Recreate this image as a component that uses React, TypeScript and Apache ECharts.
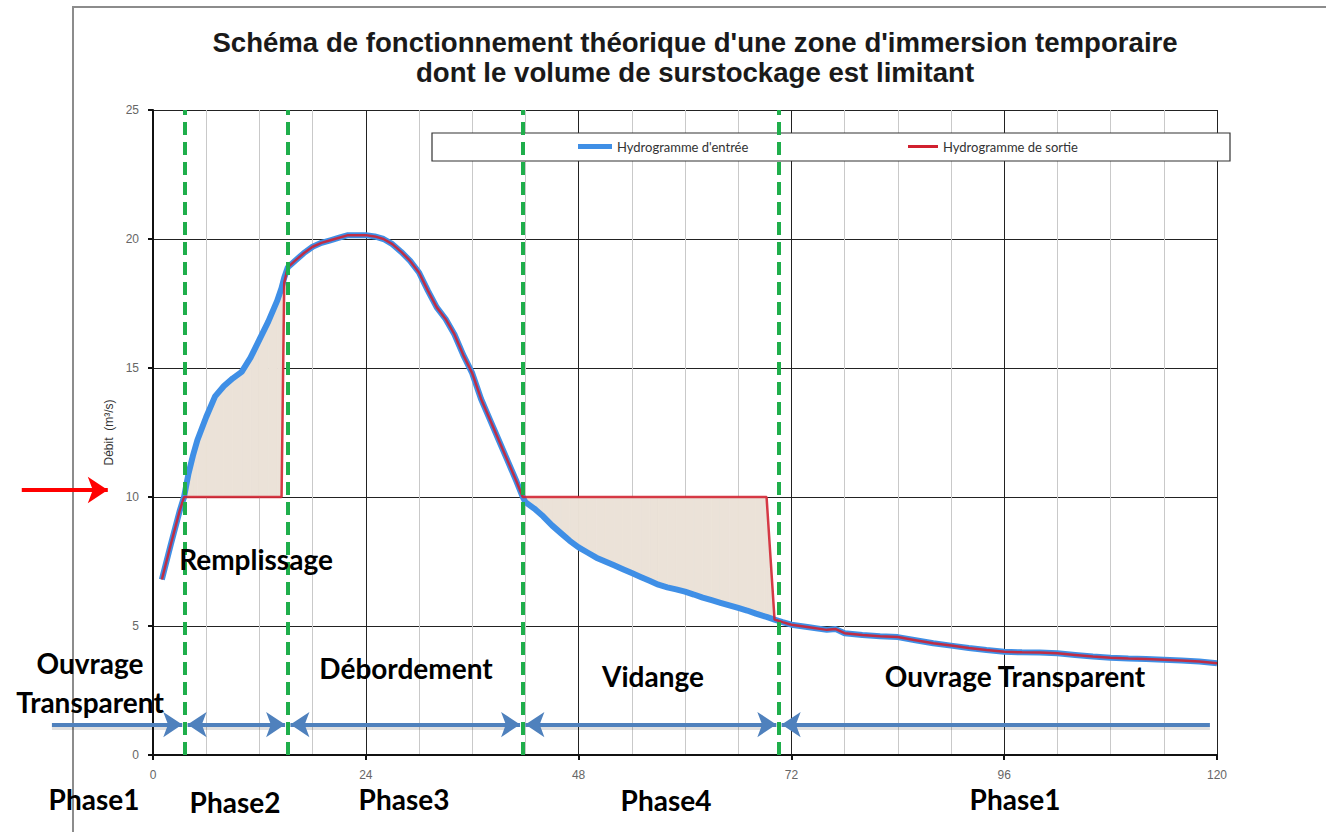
import React, { useEffect, useRef } from "react";
import * as echarts from "echarts";

// ---------- data ----------
const hours = [
  1, 2, 3, 3.5, 4, 4.5, 5, 6, 7, 8, 9, 10, 11, 12, 13, 14, 14.5, 14.8, 15.2, 16, 17, 18, 19, 20,
  21, 22, 23, 24, 25, 26, 27, 28, 29, 30, 31, 32, 33, 34, 35, 36, 37, 38, 39, 40, 41, 41.7,
  42, 43, 44, 45, 46, 47, 48, 49, 50, 51, 52, 53, 54, 55, 56, 57, 58, 59, 60, 61, 62, 63, 64,
  65, 66, 67, 68, 69, 69.2, 70.1, 71, 72, 74, 76, 77, 78, 80, 82, 84, 86, 88, 90, 92, 94, 96,
  98, 100, 102, 104, 106, 108, 110, 112, 114, 116, 118, 120,
];
const inflow = [
  6.8, 8.15, 9.45, 10.0, 10.9, 11.6, 12.2, 13.1, 13.9, 14.3, 14.6, 14.85, 15.4, 16.1, 16.8, 17.6,
  18.1, 18.5, 18.9, 19.15, 19.45, 19.7, 19.85, 19.95, 20.05, 20.15, 20.15, 20.15, 20.1, 20.0,
  19.8, 19.5, 19.15, 18.7, 18.0, 17.35, 16.9, 16.3, 15.5, 14.8, 13.8, 13.0, 12.2, 11.4, 10.6,
  10.0, 9.8, 9.55, 9.25, 8.9, 8.6, 8.3, 8.05, 7.85, 7.65, 7.5, 7.35, 7.2, 7.05, 6.9, 6.75, 6.6,
  6.5, 6.42, 6.33, 6.22, 6.1, 6.0, 5.9, 5.8, 5.7, 5.6, 5.48, 5.37, 5.35, 5.25, 5.15, 5.05, 4.95,
  4.85, 4.88, 4.72, 4.65, 4.6, 4.57, 4.45, 4.33, 4.24, 4.15, 4.07, 4.0, 3.98, 3.97, 3.94, 3.88,
  3.82, 3.77, 3.74, 3.72, 3.69, 3.66, 3.62, 3.56,
];
const outflow = [
  6.8, 8.15, 9.45, 10.0, 10, 10, 10, 10, 10, 10, 10, 10, 10, 10, 10, 10,
  10, 18.3, 18.9, 19.15, 19.45, 19.7, 19.85, 19.95, 20.05, 20.15, 20.15, 20.15, 20.1, 20.0,
  19.8, 19.5, 19.15, 18.7, 18.0, 17.35, 16.9, 16.3, 15.5, 14.8, 13.8, 13.0, 12.2, 11.4, 10.6,
  10.0, 10, 10, 10, 10, 10, 10, 10, 10, 10, 10, 10, 10, 10, 10, 10, 10,
  10, 10, 10, 10, 10, 10, 10, 10, 10, 10, 10, 10, 10, 5.25, 5.15, 5.05, 4.95,
  4.85, 4.88, 4.72, 4.65, 4.6, 4.57, 4.45, 4.33, 4.24, 4.15, 4.07, 4.0, 3.98, 3.97, 3.94, 3.88,
  3.82, 3.77, 3.74, 3.72, 3.69, 3.66, 3.62, 3.56,
];
const phaseBounds = [3.6, 15.2, 41.7, 70.6];
const arrowSpan = [-11.4, 119.2];
const arrowLevel = 1.18;
const thresholdArrowX = [-14.8, -5.1];
const thresholdArrowY = 10.27;
const xMin = 0, xMax = 120, xInterval = 24;
const yMin = 0, yMax = 25, yInterval = 5;

const titleText =
  "Schéma de fonctionnement théorique d'une zone d'immersion temporaire\ndont le volume de surstockage est limitant";
const nameIn = "Hydrogramme d'entrée";
const nameOut = "Hydrogramme de sortie";
const yName = "Débit  (m³/s)";

const annotations = [
  { text: "Remplissage", x: 256, y: 559 },
  { text: "Ouvrage\nTransparent", x: 90, y: 682 },
  { text: "Débordement", x: 406, y: 668 },
  { text: "Vidange", x: 653, y: 676 },
  { text: "Ouvrage Transparent", x: 1015, y: 676 },
  { text: "Phase1", x: 94, y: 799 },
  { text: "Phase2", x: 235, y: 802 },
  { text: "Phase3", x: 404, y: 799 },
  { text: "Phase4", x: 666, y: 800 },
  { text: "Phase1", x: 1015, y: 799 },
];

export default function App() {
  const ref = useRef<HTMLDivElement>(null);
  useEffect(() => {
    document.body.style.margin = "0";
    const chart = echarts.init(ref.current!, null, { renderer: "svg" });

    const inData = hours.map((h, i) => [h, inflow[i]]);
    const outData = hours.map((h, i) => [h, outflow[i]]);
    const bandData = hours.map((h, i) => [h, inflow[i], outflow[i]]);

    const bounds = [arrowSpan[0], ...phaseBounds, arrowSpan[1]];
    const gap = 0.3;
    const arrowSegs: any[] = [];
    const shadowSegs: any[] = [];
    for (let i = 0; i < bounds.length - 1; i++) {
      const from = bounds[i] + (i > 0 ? gap : 0);
      const to = bounds[i + 1] - (i < bounds.length - 2 ? gap : 0);
      arrowSegs.push({
        coords: [
          [from, arrowLevel],
          [to, arrowLevel],
        ],
        symbol: [i > 0 ? "arrow" : "none", i < bounds.length - 2 ? "arrow" : "none"],
      });
      shadowSegs.push({
        coords: [
          [from + (i > 0 ? 1.5 : 0), arrowLevel - 0.12],
          [to - (i < bounds.length - 2 ? 1.5 : 0), arrowLevel - 0.12],
        ],
      });
    }

    const font = "Liberation Sans, Arial, sans-serif";
    const fill = "#ebe2d8";

    chart.setOption({
      animation: false,
      backgroundColor: "#ffffff",
      title: {
        text: titleText,
        left: 695,
        top: 27,
        textAlign: "center",
        padding: 0,
        textStyle: {
          fontFamily: font,
          fontWeight: "bold",
          fontSize: 27.6,
          lineHeight: 30,
          color: "#1a1a1a",
        },
      },
      legend: [
        {
          data: [nameIn],
          left: 578,
          top: 140,
          padding: 0,
          icon: "rect",
          itemWidth: 34,
          itemHeight: 5,
          textStyle: { fontFamily: "Lato, sans-serif", fontSize: 13, color: "#333" },
          z: 6,
        },
        {
          data: [nameOut],
          left: 908,
          top: 140,
          padding: 0,
          icon: "rect",
          itemWidth: 30,
          itemHeight: 3,
          textStyle: { fontFamily: "Lato, sans-serif", fontSize: 13, color: "#333" },
          z: 6,
        },
      ],
      grid: { left: 153, right: 109, top: 110, bottom: 77 },
      xAxis: {
        type: "value",
        min: xMin,
        max: xMax,
        interval: xInterval,
        axisLine: { show: true, onZero: false, lineStyle: { color: "#111", width: 2 } },
        axisTick: { show: true, length: 5, lineStyle: { color: "#111", width: 2 } },
        axisLabel: { margin: 14, fontFamily: font, fontSize: 12, color: "#666" },
        splitLine: { show: true, lineStyle: { color: "#222", width: 1 } },
        minorTick: { show: false, splitNumber: 4 },
        minorSplitLine: { show: true, lineStyle: { color: "#c9c9c9", width: 1 } },
      },
      yAxis: {
        type: "value",
        min: yMin,
        max: yMax,
        interval: yInterval,
        name: yName,
        nameLocation: "middle",
        nameGap: 27,
        nameTextStyle: { fontFamily: font, fontSize: 12, color: "#333" },
        axisLine: { show: true, lineStyle: { color: "#111", width: 2 } },
        axisTick: { show: true, length: 5, lineStyle: { color: "#111", width: 2 } },
        axisLabel: { margin: 14, fontFamily: font, fontSize: 12, color: "#666" },
        splitLine: { show: true, lineStyle: { color: "#222", width: 1 } },
      },
      series: [
        {
          name: "stockage",
          type: "custom",
          silent: true,
          clip: true,
          z: 1,
          data: bandData,
          encode: { x: 0, y: [1, 2] },
          renderItem: (params: any, api: any) => {
            const i = params.dataIndex;
            if (i >= hours.length - 1) return null;
            const a = api.coord([hours[i], inflow[i]]);
            const b = api.coord([hours[i + 1], inflow[i + 1]]);
            const c = api.coord([hours[i + 1], outflow[i + 1]]);
            const d = api.coord([hours[i], outflow[i]]);
            return {
              type: "polygon",
              shape: { points: [a, b, c, d] },
              style: { fill, stroke: fill, lineWidth: 0.8 },
            };
          },
        },
        {
          name: nameIn,
          type: "line",
          data: inData,
          symbol: "none",
          color: "#3f8fe6",
          lineStyle: { color: "#3f8fe6", width: 6 },
          z: 3,
        },
        {
          name: nameOut,
          type: "line",
          data: outData,
          symbol: "none",
          color: "#d1202f",
          lineStyle: { color: "#d1202f", width: 2.5, opacity: 0.88 },
          z: 4,
          markLine: {
            silent: true,
            symbol: ["none", "none"],
            label: { show: false },
            lineStyle: { color: "#1fae4b", width: 4, type: [13, 7] },
            data: phaseBounds.map((b) => ({ xAxis: b })),
            z: 7,
          },
        },
        {
          name: "phasesShadow",
          type: "lines",
          coordinateSystem: "cartesian2d",
          clip: false,
          silent: true,
          symbol: "none",
          lineStyle: { color: "#000", width: 4, opacity: 0.12 },
          data: shadowSegs,
          z: 5,
        },
        {
          name: "phases",
          type: "lines",
          coordinateSystem: "cartesian2d",
          clip: false,
          silent: true,
          symbolSize: 19,
          lineStyle: { color: "#4f81bd", width: 4, opacity: 1 },
          data: arrowSegs,
          z: 6,
        },
        {
          name: "seuil",
          type: "lines",
          coordinateSystem: "cartesian2d",
          clip: false,
          silent: true,
          symbol: ["none", "arrow"],
          symbolSize: 20,
          lineStyle: { color: "#ff0000", width: 4, opacity: 1 },
          data: [
            {
              coords: [
                [thresholdArrowX[0], thresholdArrowY],
                [thresholdArrowX[1], thresholdArrowY],
              ],
            },
          ],
          z: 6,
        },
      ],
      graphic: [
        {
          type: "polyline",
          shape: { points: [[73, 832], [73, 7], [1326, 7]] },
          style: { stroke: "#8c8c8c", lineWidth: 2, fill: "none" },
          z: 0,
          silent: true,
        },
        {
          type: "rect",
          shape: { x: 432, y: 133, width: 798, height: 28 },
          style: { fill: "#ffffff", stroke: "#333", lineWidth: 1.2 },
          z: 5,
          silent: true,
        },
        ...annotations.map((a) => ({
          type: "text",
          x: a.x,
          y: a.y,
          z: 10,
          silent: true,
          style: {
            text: a.text,
            fontFamily: "Lato, sans-serif",
            fontWeight: "bold",
            fontSize: 28,
            lineHeight: 39,
            fill: "#000",
            align: "center",
            verticalAlign: "middle",
          },
        })),
      ],
    });
    return () => chart.dispose();
  }, []);
  return (
    <div
      ref={ref}
      style={{ position: "absolute", left: 0, top: 0, width: 1326, height: 832, background: "#fff" }}
    />
  );
}
